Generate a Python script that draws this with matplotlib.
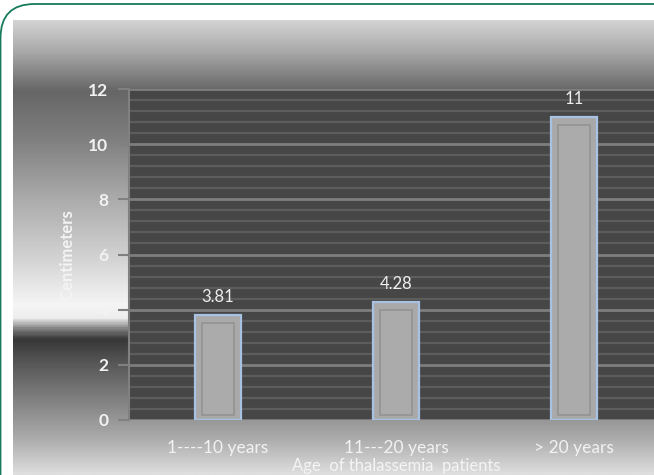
import numpy as np
import matplotlib
matplotlib.use("Agg")
import matplotlib.pyplot as plt
from matplotlib.colors import LinearSegmentedColormap
from matplotlib.patches import FancyBboxPatch
from matplotlib.ticker import MultipleLocator

plt.rcParams['font.family'] = ['Lato', 'DejaVu Sans']

# data
categories = ['1----10 years', '11---20 years', '> 20 years']
values = [3.81, 4.28, 11]
value_labels = ['3.81', '4.28', '11']

W, H = 654, 475
fig = plt.figure(figsize=(W / 100, H / 100), dpi=100)
fig.patch.set_facecolor('white')

# background panel with the "glossy" vertical gradient
bg = fig.add_axes([13 / W, 0, 1 - 13 / W, (H - 20) / H])
bg.set_axis_off()
# (pixel row from top of figure, grey level)
stops = [(20, 210), (50, 170), (90, 102), (140, 128), (200, 172), (260, 212),
         (305, 245), (318, 238), (330, 120), (340, 55), (360, 82), (400, 128),
         (440, 172), (475, 222)]
span = H - 20
cmap = LinearSegmentedColormap.from_list(
    'panel', [((y - 20) / span, (g / 255,) * 3) for y, g in stops])
grad = np.linspace(0, 1, 600).reshape(-1, 1)
bg.imshow(grad, aspect='auto', cmap=cmap, extent=[0, 1, 0, 1], origin='upper')
bg.set_xlim(0, 1)
bg.set_ylim(0, 1)

# green rounded frame
frame = FancyBboxPatch((0.5, -60), 720, (H - 4) + 60, boxstyle='round,pad=0,rounding_size=34',
                       transform=None, facecolor='none', edgecolor='#177a5c', linewidth=1.3)
fig.add_artist(frame)

# main plot
ax = fig.add_axes([129 / W, 55 / H, 534 / W, 331 / H])
ax.set_facecolor('#464646')
x = np.arange(len(categories))

ax.bar(x, values, width=0.26, color='#a9a9a9', edgecolor='#a8c2e2', linewidth=1.6, zorder=3)
# inner bevel
ax.bar(x, [v - 0.47 for v in values], bottom=0.18, width=0.18, color='#ababab',
       edgecolor='#939393', linewidth=1.2, zorder=4)

for xi, v, lab in zip(x, values, value_labels):
    ax.annotate(lab, (xi, v), xytext=(0, 13), textcoords='offset points', ha='center',
                va='center', color='#eeeeee', fontsize=12)

ax.set_xlim(-0.5, 2.5)
ax.set_ylim(0, 12)
ax.yaxis.set_major_locator(MultipleLocator(2))
ax.yaxis.set_minor_locator(MultipleLocator(0.4))
ax.grid(which='minor', axis='y', color='#5d5d5d', linewidth=1.6)
ax.grid(which='major', axis='y', color='#7e7e7e', linewidth=2)
ax.set_axisbelow(True)

ax.set_xticks(x)
ax.set_xticklabels(categories, color='#f2f2f2')
ax.tick_params(axis='x', length=0, pad=20, labelsize=12.5)
for t in ax.get_xticklabels():
    t.set_va('center')
ax.tick_params(axis='y', which='major', length=8, width=1.5, color='#808080', pad=7,
               labelcolor='#f2f2f2', labelsize=12.5)
for t in ax.get_yticklabels():
    t.set_fontweight('bold')
ax.tick_params(axis='y', which='minor', length=0)

for s in ['top', 'right', 'bottom']:
    ax.spines[s].set_visible(False)
ax.spines['left'].set_color('#808080')
ax.spines['left'].set_linewidth(1.5)

ax.set_xlabel('Age  of thalassemia  patients', color='#f4f4f4', fontsize=12, va='bottom')
ax.xaxis.set_label_coords(0.5, -0.163)
ax.set_ylabel('Centimeters', color='#f4f4f4', fontsize=12, fontweight='bold')
ax.yaxis.set_label_coords(-0.101, 0.5)

fig.savefig('out.png', dpi=100)
